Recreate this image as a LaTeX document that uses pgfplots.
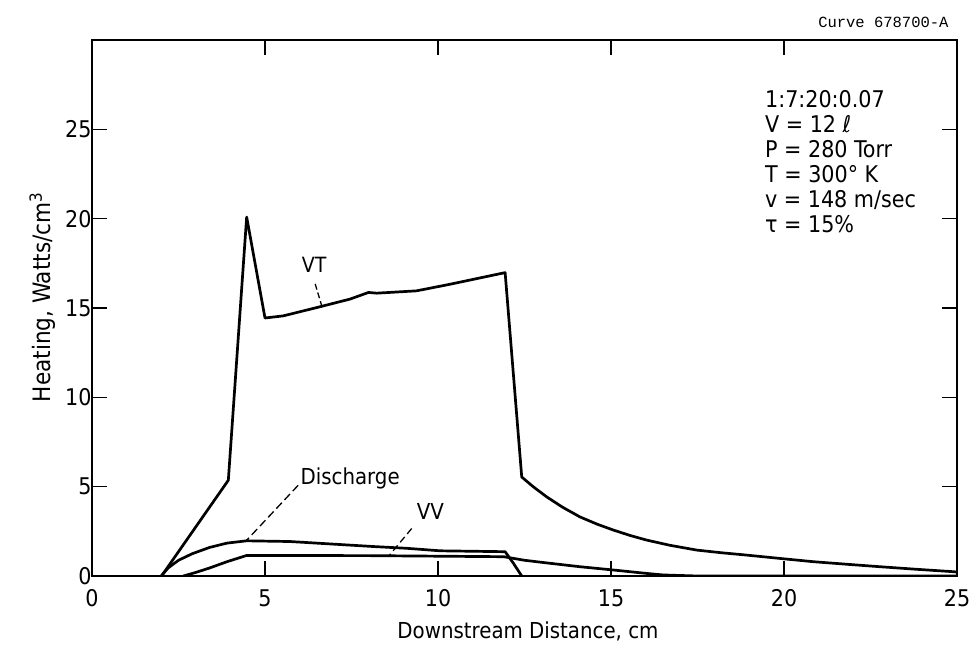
\documentclass[border=0pt]{standalone}
\usepackage{fontspec}
\setmainfont{DejaVu Sans Condensed}
\setmonofont{Liberation Mono}
\usepackage{pgfplots}
\pgfplotsset{compat=1.18}
\begin{document}
\begin{tikzpicture}
\begin{axis}[name=ax, scale only axis, width=865pt, height=536pt,
 xmin=0, xmax=25, ymin=0, ymax=30,
 xtick={0,5,10,15,20,25}, ytick={0,5,10,15,20,25},
 tick align=inside, major tick length=15pt,
 every tick/.style={black, line width=1.3pt},
 axis line style={line width=1.8pt},
 /pgf/number format/assume math mode=true,
 ticklabel style={font=\fontsize{23}{26}\selectfont},
 xticklabel style={yshift=-10pt},
 yticklabel style={xshift=3pt},
 label style={font=\fontsize{22}{26}\selectfont},
 xlabel={Downstream Distance, cm},
 ylabel={Heating, Watts/cm\textsuperscript{3}},
 xlabel style={at={(axis description cs:0.504,-0.1026)}, anchor=center},
 ylabel style={at={(axis description cs:-0.057,0.52)}, anchor=center,
   font=\fontsize{24}{26}\selectfont},
]
% VT
\addplot[black, line width=2.7pt, line join=round] coordinates {
 (2.01,0) (3.94,5.36) (4.47,20.09) (5.0,14.44) (5.53,14.56) (6.59,15.07)
 (7.46,15.5) (7.99,15.87) (8.23,15.83) (9.38,15.96) (10.35,16.33) (11.94,16.98)
 (12.42,5.54) (12.75,5.0) (13.14,4.43) (13.6,3.85) (14.10,3.31) (14.6,2.9) (15.07,2.57)
 (15.55,2.27) (16.03,2.01) (16.7,1.72) (17.48,1.45)
 (18.2,1.3) (18.92,1.17) (19.9,0.98) (20.85,0.80) (21.8,0.66) (22.77,0.52) (23.8,0.38) (24.9,0.24) (25,0.22)
};
% Discharge
\addplot[black, line width=2.7pt, line join=round] coordinates {
 (2.0,0) (2.2,0.45) (2.5,0.88) (2.9,1.25) (3.4,1.6) (3.9,1.84) (4.47,1.97) (5.72,1.93)
 (8.13,1.65) (9.1,1.55) (10.06,1.41) (11.94,1.36) (12.18,0.71) (12.42,0)
};
% VV
\addplot[black, line width=2.7pt, line join=round] coordinates {
 (2.64,0) (3.0,0.2) (3.4,0.45) (3.9,0.8) (4.47,1.15) (8.0,1.14) (11.9,1.08)
 (12.5,0.88) (13.2,0.72) (14.1,0.52) (15.1,0.33) (16.0,0.15) (16.5,0.06)
 (17.5,0) (25,0)
};
\node[font=\fontsize{21}{24}\selectfont] at (axis cs:6.42,17.4) {VT};
\draw[dash pattern=on 6pt off 3pt, line width=1.3pt] (axis cs:6.45,16.35) -- (axis cs:6.64,15.12);
\node[font=\fontsize{22}{24}\selectfont] at (axis cs:7.46,5.47) {Discharge};
\draw[dash pattern=on 8pt off 4pt, line width=1.3pt] (axis cs:5.96,5.08) -- (axis cs:4.47,2.0);
\node[font=\fontsize{22}{24}\selectfont] at (axis cs:9.78,3.6) {VV};
\draw[dash pattern=on 7pt off 4pt, line width=1.3pt] (axis cs:9.24,2.66) -- (axis cs:8.56,1.08);
\node[anchor=north west, align=left, inner sep=0pt,
 font=\fontsize{23}{25}\selectfont] at (rel axis cs:0.778,0.907)
 {1:7:20:0.07\\ V = 12 ℓ\\ P = 280 Torr\\ T = 300° K\\ v = 148 m/sec\\ τ = 15\%};
\end{axis}
\node[anchor=east, font=\ttfamily\fontsize{15.5}{17}\selectfont]
 at ([xshift=-5pt,yshift=18pt]ax.north east) {Curve 678700-A};
\pgfresetboundingbox
\path[use as bounding box] ([xshift=-92pt,yshift=-72pt]ax.south west)
 rectangle ([xshift=21pt,yshift=40pt]ax.north east);
\end{tikzpicture}
\end{document}
